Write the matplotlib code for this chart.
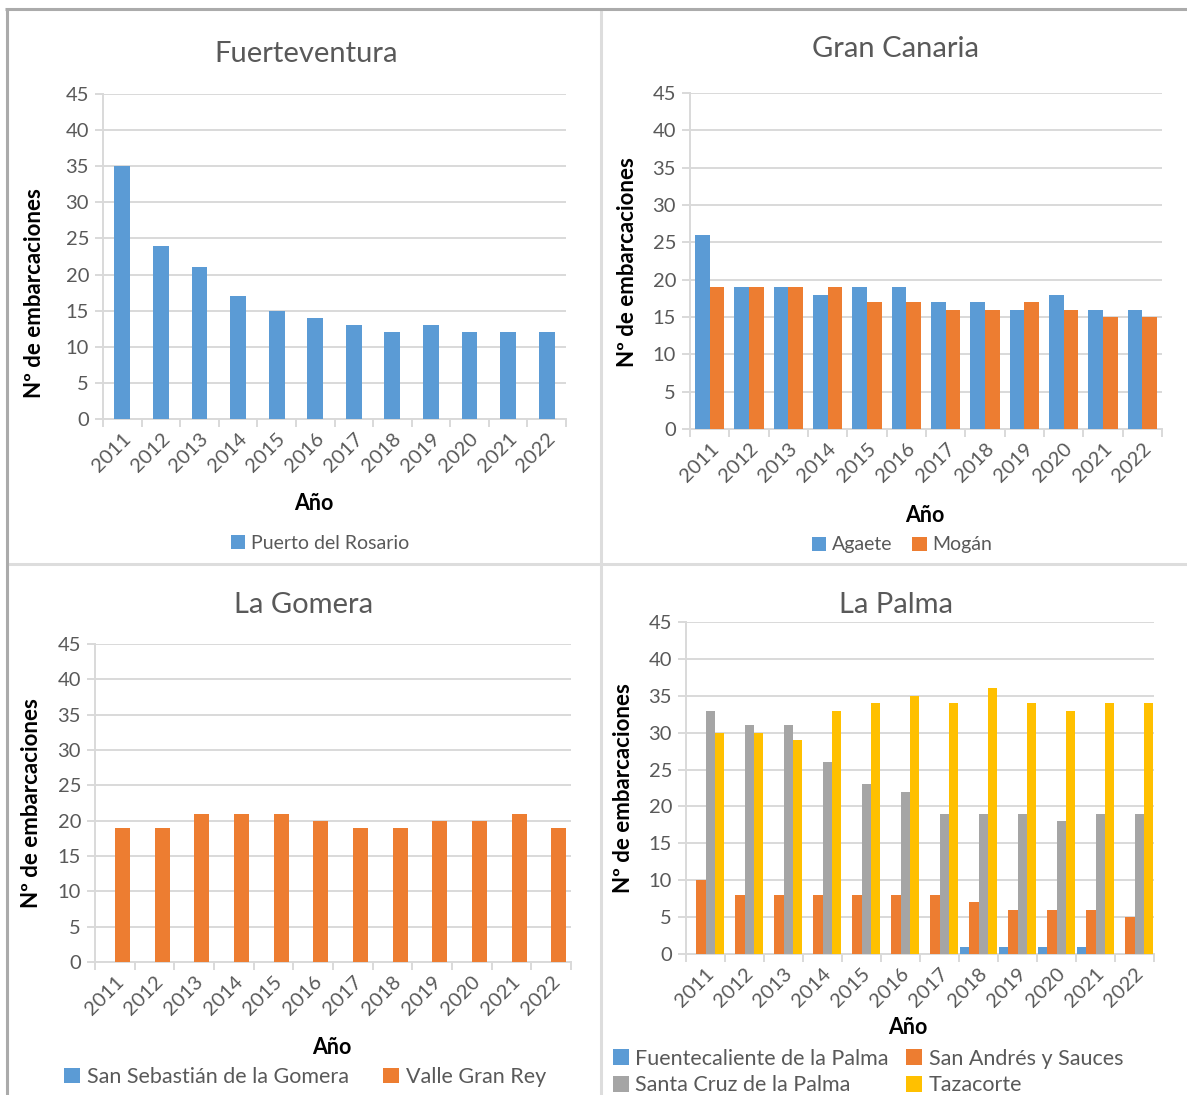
import matplotlib
matplotlib.use("Agg")
import matplotlib.pyplot as plt
from matplotlib.patches import Patch
from matplotlib.lines import Line2D
import numpy as np

W, H = 1187, 1095

years = ["2011", "2012", "2013", "2014", "2015", "2016",
         "2017", "2018", "2019", "2020", "2021", "2022"]

# Fuerteventura
puerto_del_rosario = [35, 24, 21, 17, 15, 14, 13, 12, 13, 12, 12, 12]
# Gran Canaria
agaete = [26, 19, 19, 18, 19, 19, 17, 17, 16, 18, 16, 16]
mogan = [19, 19, 19, 19, 17, 17, 16, 16, 17, 16, 15, 15]
# La Gomera
san_sebastian = [0, 0, 0, 0, 0, 0, 0, 0, 0, 0, 0, 0]
valle_gran_rey = [19, 19, 21, 21, 21, 20, 19, 19, 20, 20, 21, 19]
# La Palma
fuentecaliente = [0, 0, 0, 0, 0, 0, 0, 1, 1, 1, 1, 0]
san_andres = [10, 8, 8, 8, 8, 8, 8, 7, 6, 6, 6, 5]
santa_cruz = [33, 31, 31, 26, 23, 22, 19, 19, 19, 18, 19, 19]
tazacorte = [30, 30, 29, 33, 34, 35, 34, 36, 34, 33, 34, 34]

BLUE, ORANGE, GRAY, YELLOW = "#5B9BD5", "#ED7D31", "#A5A5A5", "#FFC000"
TXT = "#595959"
GRID = "#D9D9D9"

plt.rcParams['font.family'] = ['Lato', 'DejaVu Sans']

fig = plt.figure(figsize=(W / 100, H / 100), dpi=100)


def fx(px):
    return px / W


def fy(py):
    return 1 - py / H


def px_box(left, top, right, bottom):
    return [left / W, 1 - bottom / H, (right - left) / W, (bottom - top) / H]


def panel(box, title, title_xy, series, names, colors, bar_w,
          ylabel_xy, xlabel_xy, legend_xy, legend_fs, ncol, colspace, order=None):
    ax = fig.add_axes(px_box(*box))
    n = len(series)
    x = np.arange(len(years))
    for i, (vals, name, c) in enumerate(zip(series, names, colors)):
        off = (i - (n - 1) / 2) * bar_w
        ax.bar(x + off, vals, width=bar_w, color=c, label=name, zorder=3)
    ax.set_xlim(-0.5, len(years) - 0.5)
    ax.set_ylim(0, 45)
    ax.set_yticks(range(0, 46, 5))
    ax.yaxis.grid(True, color=GRID, linewidth=1.4, zorder=0)
    for s in ["top", "right"]:
        ax.spines[s].set_visible(False)
    for s in ["left", "bottom"]:
        ax.spines[s].set_color(GRID)
        ax.spines[s].set_linewidth(1.4)
    ax.set_xticks(np.arange(-0.5, len(years), 1.0))
    ax.set_xticklabels([])
    ax.set_xticks(x, minor=True)
    ax.set_xticklabels(years, minor=True, rotation=45, ha="right", va="top",
                       rotation_mode="anchor")
    ax.tick_params(axis="x", which="major", length=6, color=GRID, width=1.4)
    ax.tick_params(axis="x", which="minor", length=0, pad=8, labelsize=14.5,
                   labelcolor=TXT)
    ax.tick_params(axis="y", length=6, color=GRID, width=1.4, pad=4,
                   labelsize=14.5, labelcolor=TXT)

    fig.text(fx(title_xy[0]), fy(title_xy[1]), title, ha="center", va="center",
             fontsize=21, color=TXT)
    fig.text(fx(ylabel_xy[0]), fy(ylabel_xy[1]), "Nº de embarcaciones",
             ha="center", va="center", rotation=90, fontsize=16,
             fontweight="bold", color="black")
    fig.text(fx(xlabel_xy[0]), fy(xlabel_xy[1]), "Año", ha="center",
             va="center", fontsize=15.5, fontweight="bold", color="black")

    handles = [Patch(facecolor=c, edgecolor="none", label=nm)
               for nm, c in zip(names, colors)]
    if order is not None:
        handles = [handles[k] for k in order]
    fig.legend(handles=handles, loc="center",
               bbox_to_anchor=(fx(legend_xy[0]), fy(legend_xy[1])),
               ncol=ncol, frameon=False, fontsize=legend_fs,
               labelcolor=TXT, handlelength=0.75, handleheight=0.75,
               handletextpad=0.3, columnspacing=colspace, borderpad=0,
               labelspacing=0.3)
    return ax


# Fuerteventura
panel((103, 94, 566, 419), "Fuerteventura", (306, 54),
      [puerto_del_rosario], ["Puerto del Rosario"], [BLUE], 0.41,
      (35, 293), (314, 504), (320, 543), 14, 1, 1.0)

# Gran Canaria
panel((690, 93, 1162, 429), "Gran Canaria", (896, 49),
      [agaete, mogan], ["Agaete", "Mogán"], [BLUE, ORANGE], 0.37,
      (627, 262), (925, 515), (902, 545), 14, 2, 1.0)

# La Gomera
panel((95, 644, 571, 962), "La Gomera", (304, 605),
      [san_sebastian, valle_gran_rey],
      ["San Sebastián de la Gomera", "Valle Gran Rey"], [BLUE, ORANGE], 0.38,
      (32, 803), (332, 1048), (305, 1077), 15.5, 2, 1.6)

# La Palma
panel((686, 622, 1154, 954), "La Palma", (896, 605),
      [fuentecaliente, san_andres, santa_cruz, tazacorte],
      ["Fuentecaliente de la Palma", "San Andrés y Sauces",
       "Santa Cruz de la Palma", "Tazacorte"],
      [BLUE, ORANGE, GRAY, YELLOW], 0.24,
      (624, 788), (908, 1028), (868, 1072), 15.5, 2, 0.8, order=[0, 2, 1, 3])

# panel borders
border = dict(transform=fig.transFigure, solid_capstyle="butt")
fig.add_artist(Line2D([fx(600.5), fx(600.5)], [fy(10), fy(H)], color="#DDDDDD",
                      linewidth=2.2, **border))
fig.add_artist(Line2D([fx(8), fx(W)], [fy(563.5), fy(563.5)], color="#DDDDDD",
                      linewidth=2.2, **border))
fig.add_artist(Line2D([fx(5), fx(W)], [fy(9), fy(9)], color="#ABABAB",
                      linewidth=2.2, **border))
fig.add_artist(Line2D([fx(6.5), fx(6.5)], [fy(8), fy(H)], color="#ABABAB",
                      linewidth=2.2, **border))

fig.savefig("out.png", dpi=100)
plt.close(fig)
